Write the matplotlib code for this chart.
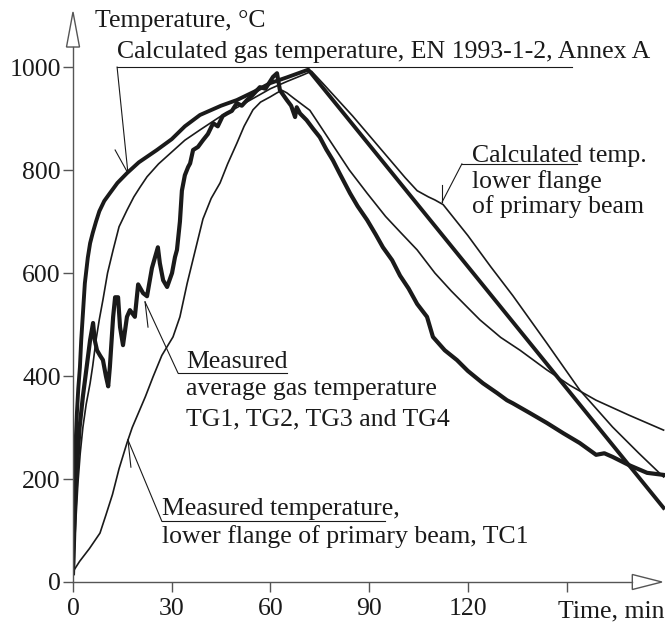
import matplotlib
matplotlib.use("Agg")
import matplotlib.pyplot as plt
from matplotlib.patches import Polygon

plt.rcParams['font.family'] = ['Liberation Serif', 'DejaVu Serif']

# calculated gas temperature, EN 1993-1-2 Annex A
calc_gas_t = [0, 0.3, 0.6, 0.9, 1.2, 1.6, 2.1, 2.5, 3.0, 3.6, 4.5, 5.2, 6, 7, 8, 9.5,
              11.2, 13.5, 16.4, 20, 25.5, 30, 34, 38.6, 45, 49.8, 55, 60, 65, 71.5, 179.5]
calc_gas_T = [20, 130, 223, 285, 330, 375, 417, 470, 520, 580, 630, 658, 678, 700, 720,
              740, 755, 775, 794, 815, 839, 860, 885, 907, 925, 936, 952, 969, 980, 995, 144]

# calculated temperature, lower flange of primary beam
calc_fl_t = [0, 0.7, 1.5, 2.2, 3, 4, 5.2, 6, 7, 8, 9.1, 10.5, 12.2, 14, 16.4, 18.5, 20.4,
             22.5, 26, 30, 34, 38.6, 45, 50, 55, 60, 65, 70, 72.5, 76, 80, 85, 89.4, 93,
             97, 101, 104.6, 108, 110, 112.5, 116, 120, 127, 133.7, 144, 154, 164, 172,
             179.5]
calc_fl_T = [20, 100, 192, 250, 300, 345, 386, 420, 470, 510, 548, 600, 645, 690, 722,
             748, 767, 787, 812, 835, 858, 878, 905, 922, 940, 958, 972, 985, 992, 968,
             940, 905, 872, 845, 815, 785, 760, 748, 742, 733, 705, 673, 612, 556, 464,
             373, 301, 250, 204]

# measured temperature, lower flange, TC1
tc1_t = [0, 2, 5, 8.2, 10, 12, 14, 16.4, 18, 20, 22, 24.3, 27, 30.4, 32.5, 34.7, 37,
         39.5, 42, 44.7, 47, 49.8, 52, 54.7, 57, 59.9, 62, 63.5, 65, 67, 72, 78, 84,
         89.4, 95, 99.4, 104.6, 110, 115, 119.8, 123.7, 130, 135.9, 144, 151, 159, 169,
         179.5]
tc1_T = [20, 40, 65, 95, 130, 170, 220, 270, 300, 330, 360, 398, 440, 476, 515, 580,
         640, 705, 745, 775, 812, 852, 885, 917, 932, 942, 950, 955, 950, 940, 916, 858,
         800, 755, 710, 680, 645, 600, 565, 534, 509, 475, 450, 412, 382, 353, 324, 295]

# measured average gas temperature TG1-TG4
meas_t = [0, 0.3, 0.6, 1.2, 2.0, 3.0, 4.2, 5.2, 6.1, 6.6, 7.3, 8.2, 9.1, 10.0, 10.7,
          11.2, 12.2, 12.8, 13.7, 14.3, 15.2, 16.4, 17.3, 18.8, 19.8, 21.3, 22.5, 24.0,
          25.8, 26.4, 27.4, 28.6, 30.1, 31.0, 31.6, 32.5, 33.1, 34.0, 35.0, 35.6, 36.5,
          38, 39.5, 41, 42.6, 44, 45.5, 46.8, 48.3, 49.8, 51.3, 52.9, 54.5, 56.8, 58.5,
          60.8, 62.0, 62.9, 64, 65, 66.3, 67.5, 68, 69, 71, 73, 75, 77, 79, 81, 84.2,
          86.5, 89.4, 92, 94.2, 97, 99.4, 102, 104.6, 107.6, 109.4, 113, 116.7, 120,
          124.6, 128.9, 131.9, 133.7, 138.9, 144, 149, 154, 159, 161.5, 164, 169, 174.5,
          179.5]
meas_T = [17, 80, 150, 220, 300, 360, 420, 470, 503, 470, 450, 440, 431, 400, 380,
          417, 515, 553, 553, 495, 460, 515, 528, 515, 578, 561, 555, 610, 650, 619,
          586, 573, 600, 631, 645, 700, 760, 790, 806, 813, 839, 845, 858, 870, 891,
          885, 905, 910, 915, 930, 925, 936, 945, 961, 958, 981, 988, 955, 945, 936,
          925, 903, 922, 910, 897, 880, 864, 840, 819, 794, 755, 730, 703, 675, 650,
          625, 595, 570, 540, 515, 476, 450, 431, 410, 386, 367, 353, 347, 328, 309,
          289, 270, 247, 250, 243, 227, 212, 208]

x_ticks = [0, 30, 60, 90, 120, 150]
x_labels = ['0', '30', '60', '90', '120', '']
y_ticks = [0, 200, 400, 600, 800, 1000]

ink = '#1a1a1a'
axc = '#555555'
fs = 18.5

fig = plt.figure(figsize=(6.66, 6.28), dpi=100)
ax = fig.add_axes([73 / 666, 46 / 628, 592.2 / 666, 570 / 628])
ax.set_xlim(0, 180)
ax.set_ylim(0, 1107)

ax.plot(tc1_t, tc1_T, color=ink, lw=1.2)
ax.plot(calc_fl_t, calc_fl_T, color=ink, lw=1.2)
ax.plot(meas_t, meas_T, color=ink, lw=3.0, solid_joinstyle='round')
ax.plot(calc_gas_t, calc_gas_T, color=ink, lw=2.8)

# axes with hollow arrowheads
for s in ['top', 'right']:
    ax.spines[s].set_visible(False)
ax.spines['left'].set_bounds(0, 1039)
ax.spines['bottom'].set_bounds(0, 170)
for s in ['left', 'bottom']:
    ax.spines[s].set_color(axc)
    ax.spines[s].set_linewidth(1.0)
ax.add_patch(Polygon([[-1.98, 1039], [1.98, 1039], [0, 1107]], closed=True,
                     facecolor='white', edgecolor=axc, lw=1.0, clip_on=False))
ax.add_patch(Polygon([[170, -14.6], [170, 14.6], [179, 0]], closed=True,
                     facecolor='white', edgecolor=axc, lw=1.0, clip_on=False))

ax.set_xticks(x_ticks)
ax.set_xticklabels(x_labels)
ax.set_yticks(y_ticks)
ax.tick_params(direction='out', length=7.2, width=1.0, color=axc, labelsize=fs,
               labelcolor=ink)
ax.tick_params(axis='x', pad=4)
ax.tick_params(axis='y', pad=1.5)

ax.text(6.7, 1078, 'Temperature, °C', fontsize=fs, color=ink, va='baseline')
ax.text(147.3, -69, 'Time, min', fontsize=fs, color=ink, va='baseline', ha='left',
        clip_on=False)


def note(lines, x, ys, ul, lead, barb):
    for s, y in zip(lines, ys):
        ax.text(x, y, s, fontsize=fs, color=ink, va='baseline', clip_on=False)
    kw = dict(color=ink, lw=0.8, clip_on=False)
    ax.plot(ul[0], ul[1], **kw)
    ax.plot(lead[0], lead[1], **kw)
    ax.plot(barb[0], barb[1], **kw)


note(['Calculated gas temperature, EN 1993-1-2, Annex A'], 13.4, [1017],
     ([13.4, 151.7], [1000, 1000]), ([13.4, 16.7], [1000, 794]),
     ([16.7, 12.8], [794, 839]))
note(['Calculated temp.', 'lower flange', 'of primary beam'], 121.3, [816, 765, 717],
     ([118.2, 153.2], [812, 812]), ([118.2, 112.2], [812, 738]),
     ([112.2, 112.2], [738, 771]))
note(['Measured', 'average gas temperature', 'TG1, TG2, TG3 and TG4'], 34.3,
     [416, 363, 305],
     ([31.9, 65], [406, 406]), ([31.9, 21.9], [406, 544]),
     ([21.9, 22.8], [544, 495]))
note(['Measured temperature,', 'lower flange of primary beam, TC1'], 27.0, [130, 76],
     ([27.0, 94.8], [118, 118]), ([27.0, 16.7], [118, 276]),
     ([16.7, 17.6], [276, 223]))

fig.savefig('out.png', dpi=100)
